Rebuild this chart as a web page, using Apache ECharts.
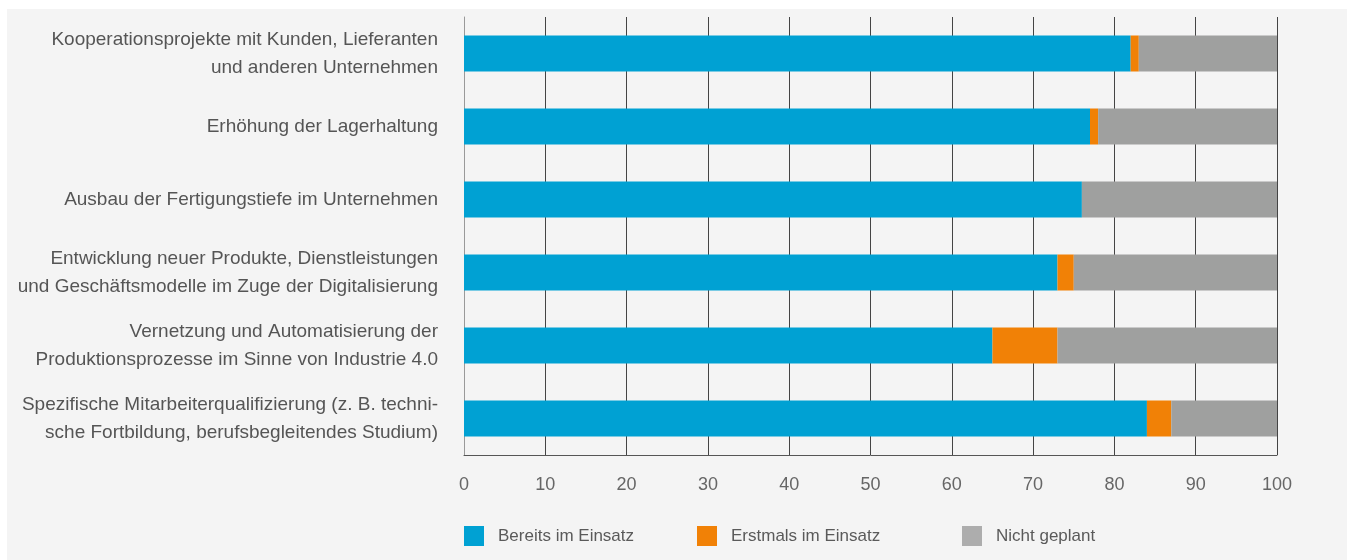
<!DOCTYPE html>
<html>
<head>
<meta charset="utf-8">
<script src="https://cdn.jsdelivr.net/npm/echarts@6/dist/echarts.min.js"></script>
<style>
body { margin: 0px; background: #fff; }
#main1 { width: 1347px; height: 560px; }
</style>
</head>
<body>
<div id="main1"></div>
<script>
var categories = [
	'Kooperationsprojekte mit Kunden, Lieferanten\nund anderen Unternehmen',
	'Erhöhung der Lagerhaltung',
	'Ausbau der Fertigungstiefe im Unternehmen',
	'Entwicklung neuer Produkte, Dienstleistungen\nund Geschäftsmodelle im Zuge der Digitalisierung',
	'Vernetzung und Automatisierung der\nProduktionsprozesse im Sinne von Industrie 4.0',
	'Spezifische Mitarbeiterqualifizierung (z. B. techni-\nsche Fortbildung, berufsbegleitendes Studium)'
];
var bereits = [82, 77, 76, 73, 65, 84];
var erstmals = [1, 1, 0, 2, 8, 3];
var nicht = [17, 22, 24, 25, 27, 13];
var xTicks = [0, 10, 20, 30, 40, 50, 60, 70, 80, 90, 100];

var fontFam = '"Liberation Sans", Arial, sans-serif';
var colBlue = '#00a1d3';
var colOrange = '#f18106';
var colGrey = '#9fa09f';

var myChart = echarts.init(document.getElementById('main1'));

// each legend item sits at its own spot, like in the print layout
function legendAt(left, name, color) {
	return {
		left: left,
		top: 526,
		padding: 0,
		icon: 'rect',
		itemWidth: 20,
		itemHeight: 20,
		selectedMode: false,
		data: [{ name: name, itemStyle: { color: color } }],
		textStyle: {
			fontFamily: fontFam,
			fontSize: 17,
			color: '#5a5a5a',
			padding: [0, 0, 0, 9]
		}
	};
}

var option = {
	animation: false,
	graphic: [{
		type: 'rect',
		left: 7,
		top: 9,
		z: -10,
		shape: { width: 1340, height: 551 },
		style: { fill: '#f4f4f4' }
	}],
	legend: [
		legendAt(464, 'Bereits im Einsatz', colBlue),
		legendAt(697, 'Erstmals im Einsatz', colOrange),
		legendAt(962, 'Nicht geplant', '#adadad')
	],
	grid: {
		left: 464,
		right: 70,
		top: 17,
		bottom: 105,
		outerBoundsMode: 'none'
	},
	xAxis: {
		type: 'value',
		min: 0,
		max: 100,
		interval: 10,
		axisLine: { show: true, lineStyle: { color: '#555', width: 1 } },
		axisTick: { show: false },
		splitLine: { show: true, lineStyle: { color: '#444', width: 1 } },
		axisLabel: {
			margin: 21,
			fontFamily: fontFam,
			fontSize: 18,
			color: '#666',
			formatter: function (v) { return xTicks.indexOf(v) >= 0 ? String(v) : ''; }
		}
	},
	yAxis: {
		type: 'category',
		inverse: true,
		data: categories,
		axisLine: { show: true, lineStyle: { color: '#999', width: 1 } },
		axisTick: { show: false },
		axisLabel: {
			margin: 26,
			fontFamily: fontFam,
			fontSize: 19,
			lineHeight: 28,
			padding: [6, 0, 0, 0],
			color: '#555',
			align: 'right'
		}
	},
	series: [
		{ name: 'Bereits im Einsatz', type: 'bar', stack: 'a', barWidth: 36, itemStyle: { color: colBlue }, data: bereits },
		{ name: 'Erstmals im Einsatz', type: 'bar', stack: 'a', barWidth: 36, itemStyle: { color: colOrange }, data: erstmals },
		{ name: 'Nicht geplant', type: 'bar', stack: 'a', barWidth: 36, itemStyle: { color: colGrey }, data: nicht }
	]
};

myChart.setOption(option);
</script>
</body>
</html>
